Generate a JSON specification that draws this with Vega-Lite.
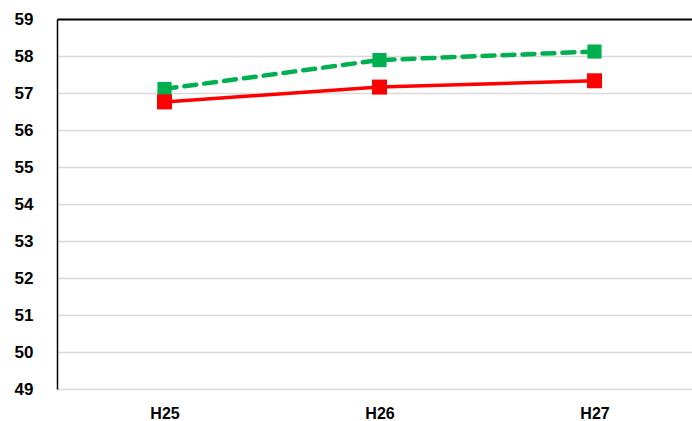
{
  "$schema": "https://vega.github.io/schema/vega-lite/v6.json",
  "width": 645,
  "height": 370,
  "autosize": {"type": "none"},
  "padding": {"left": 57, "top": 19, "right": 0, "bottom": 32},
  "background": "white",
  "config": {"view": {"stroke": null}, "font": "Liberation Sans"},
  "data": {
    "values": [
      {"series": "B", "period": "H25", "value": 57.11},
      {"series": "B", "period": "H26", "value": 57.89},
      {"series": "B", "period": "H27", "value": 58.12},
      {"series": "A", "period": "H25", "value": 56.76},
      {"series": "A", "period": "H26", "value": 57.16},
      {"series": "A", "period": "H27", "value": 57.33}
    ]
  },
  "encoding": {
    "x": {
      "field": "period",
      "type": "ordinal",
      "scale": {"type": "point", "padding": 0.5},
      "axis": {
        "title": null,
        "labelAngle": 0,
        "labelFont": "Liberation Sans",
        "labelFontWeight": "bold",
        "labelFontSize": 16,
        "labelColor": "#000000",
        "labelPadding": 16,
        "ticks": false,
        "domain": false,
        "grid": false
      }
    },
    "y": {
      "field": "value",
      "type": "quantitative",
      "scale": {"domain": [49, 59], "nice": false, "zero": false},
      "axis": {
        "title": null,
        "values": [49, 50, 51, 52, 53, 54, 55, 56, 57, 58, 59],
        "labelFont": "Liberation Sans",
        "labelFontWeight": "bold",
        "labelFontSize": 17,
        "labelColor": "#000000",
        "labelPadding": 24,
        "ticks": false,
        "domainColor": "#000000",
        "domainWidth": 1.5,
        "grid": true,
        "gridColor": {"condition": {"test": "datum.value == 59", "value": "#000000"}, "value": "#d9d9d9"},
        "gridWidth": {"condition": {"test": "datum.value == 59", "value": 2}, "value": 1.5}
      }
    }
  },
  "layer": [
    {
      "transform": [{"filter": "datum.series == 'B'"}],
      "mark": {"type": "line", "color": "#00b050", "strokeWidth": 4.5, "strokeDash": [12, 8], "strokeCap": "round"}
    },
    {
      "transform": [{"filter": "datum.series == 'B'"}],
      "mark": {"type": "square", "color": "#00b050", "opacity": 1, "size": 200, "filled": true}
    },
    {
      "transform": [{"filter": "datum.series == 'A'"}],
      "mark": {"type": "line", "color": "#ff0000", "strokeWidth": 3.5}
    },
    {
      "transform": [{"filter": "datum.series == 'A'"}],
      "mark": {"type": "square", "color": "#ff0000", "opacity": 1, "size": 225, "filled": true}
    }
  ]
}
